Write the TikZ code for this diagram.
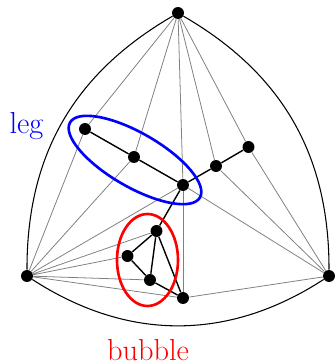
\documentclass[tikz,border=0pt]{standalone}
\usepackage{tikz}
\usetikzlibrary{calc,shapes.geometric,positioning}
\definecolor{cLeg}{HTML}{0000FF}
\definecolor{cBub}{HTML}{FF0000}
\tikzset{
  vtx/.style={circle,fill=black,inner sep=0pt,minimum size=6.8pt},
  edg/.style={line width=.8pt},
  thin/.style={line width=.45pt,black!50},
  outer/.style={line width=.6pt},
  ring/.style={ellipse,line width=1.5pt,inner sep=0pt},
  lbl/.style={font=\LARGE},
}

\begin{document}
\begin{tikzpicture}
  \useasboundingbox (0,0) rectangle (6.70,7.26);
  % outer vertices
  \node[vtx] (t) at (3.56,7.00) {};
  \node[vtx] (l) at (0.54,1.74) {};
  \node[vtx] (r) at (6.58,1.74) {};
  % leg
  \node[vtx] (a) at (1.70,4.68) {};
  \node[vtx] (b) at (2.68,4.12) {};
  \node[vtx] (c) at (3.66,3.56) {};
  \node[vtx] (d) at (4.32,3.94) {};
  \node[vtx] (e) at (4.97,4.32) {};
  % bubble
  \node[vtx] (f) at (3.13,2.64) {};
  \node[vtx] (g) at (2.55,2.14) {};
  \node[vtx] (h) at (3.00,1.66) {};
  \node[vtx] (k) at (3.66,1.30) {};
  % outer boundary
  \draw[outer] (t) to[bend right=30] (l);
  \draw[outer] (t) to[bend left=30] (r);
  \draw[outer] (l) to[bend right=33] (r);
  % grey edges
  \draw[thin] (t)--(a) (t)--(b) (t)--(c) (t)--(d) (t)--(e);
  \draw[thin] (l)--(a) (l)--(b) (l)--(c) (l)--(f) (l)--(g) (l)--(h) (l)--(k);
  \draw[thin] (r)--(e) (r)--(d) (r)--(c) (r)--(k);
  \draw[thin] (c)--(k);
  % black edges
  \draw[edg] (a)--(b)--(c)--(d)--(e);
  \draw[edg] (c)--(f)--(g)--(h)--(k)--(f)--(h);
  % rings and labels
  \node[ring,draw=cLeg,minimum width=3.0cm,minimum height=1.08cm,rotate=-30] (legring) at (2.70,4.06) {};
  \node[ring,draw=cBub,minimum width=1.22cm,minimum height=1.84cm] (bubring) at (2.95,2.06) {};
  \node[lbl,text=cLeg,anchor=base] (leglbl) at (0.53,4.60) {leg};
  \node[lbl,text=cBub,anchor=base] (bublbl) at (2.96,0.05) {bubble};
\end{tikzpicture}
\end{document}
